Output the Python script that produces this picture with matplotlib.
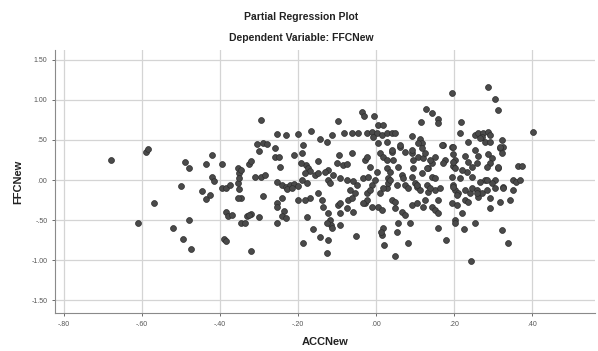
import matplotlib
matplotlib.use("Agg")
import matplotlib.pyplot as plt
from matplotlib.ticker import FuncFormatter

plt.rcParams['font.family'] = ['Liberation Sans', 'DejaVu Sans']

# ACCNew (x) / FFCNew (y) residuals
acc_new = [
    -0.68, -0.59, -0.585, -0.57, -0.61, -0.52, -0.495, -0.475, -0.48, -0.50,
    -0.49, -0.48, -0.435, -0.42, -0.395, -0.445, -0.435, -0.425, -0.42, -0.415,
    -0.395, -0.385, -0.375, -0.355, -0.35, -0.355, -0.35, -0.345, -0.355, -0.385,
    -0.38, -0.37, -0.39, -0.385, -0.345, -0.335, -0.33, -0.32, -0.32, -0.325,
    -0.32, -0.295, -0.30, -0.305, -0.29, -0.28, -0.26, -0.26, -0.25, -0.245,
    -0.255, -0.23, -0.21, -0.20, -0.31, -0.295, -0.285, -0.29, -0.30, -0.255,
    -0.255, -0.255, -0.255, -0.24, -0.23, -0.22, -0.21, -0.20, -0.24, -0.235,
    -0.24, -0.23, -0.20, -0.325, -0.345, -0.35,
    # centre
    -0.167, -0.144, -0.126, -0.113, -0.082, -0.062, -0.046, -0.023, -0.010, 0.003,
    0.015, 0.028, -0.097, -0.036, -0.031, -0.005, 0.005, -0.187, -0.19, -0.15,
    -0.18, -0.192, -0.174, -0.17, -0.156, -0.149, -0.182, -0.19, -0.17, -0.149,
    -0.138, -0.136, -0.123, -0.118, -0.123, -0.131, -0.123, -0.118, -0.115, -0.113,
    -0.126, -0.097, -0.092, -0.074, -0.059, -0.092, -0.177, -0.162, -0.144, -0.123,
    -0.187, -0.126, -0.051, -0.095, -0.10, -0.085, -0.074, -0.062, -0.11, -0.092,
    -0.074, -0.059, -0.067, -0.054, -0.072, -0.062, -0.049, -0.033, -0.028, -0.023,
    -0.015, -0.02, -0.01, -0.023, -0.028, -0.023, -0.015, -0.003, 0.003, 0.01,
    0.018, 0.028, 0.03, 0.028, 0.01, 0.005, 0.015, 0.018, 0.015, 0.02,
    0.005, -0.008, 0.028, 0.018, -0.227, -0.215, -0.177, -0.182, -0.092, -0.033,
    -0.01, 0.013,
    # right
    0.195, 0.287, 0.305, 0.313, 0.128, 0.144, 0.159, 0.159, 0.115, 0.218,
    0.215, 0.403, 0.041, 0.049, 0.092, 0.113, 0.118, 0.108, 0.172, 0.195,
    0.197, 0.203, 0.197, 0.203, 0.254, 0.262, 0.274, 0.287, 0.292, 0.279,
    0.272, 0.323, 0.326, 0.318, 0.254, 0.262, 0.287, 0.297, 0.292, 0.323,
    0.313, 0.364, 0.374, 0.351, 0.228, 0.236, 0.246, 0.233, 0.177, 0.172,
    0.151, 0.144, 0.133, 0.074, 0.092, 0.108, 0.121, 0.126, 0.095, 0.041,
    0.062, 0.028, 0.044, 0.056, 0.036, 0.067, 0.092, 0.118, 0.144, 0.151,
    0.195, 0.215, 0.246, 0.279, 0.305, 0.074, 0.10, 0.031, 0.054, 0.082,
    0.105, 0.113, 0.131, 0.133, 0.151, 0.164, 0.197, 0.203, 0.21, 0.228,
    0.241, 0.246, 0.259, 0.262, 0.272, 0.285, 0.292, 0.297, 0.318, 0.326,
    0.344, 0.351, 0.358, 0.041, 0.049, 0.067, 0.074, 0.056, 0.054, 0.092,
    0.105, 0.126, 0.121, 0.144, 0.151, 0.159, 0.195, 0.208, 0.221, 0.203,
    0.203, 0.254, 0.226, 0.159, 0.18, 0.082, 0.049, 0.244, 0.323, 0.338,
    0.292, 0.228, 0.087,
    # extra points in the dense cluster
    0.041, 0.062, 0.092, 0.118, 0.138, 0.131, 0.095, 0.069, 0.036, 0.018,
    0.049, 0.105, 0.138, 0.159, 0.197, 0.208, 0.236, 0.259, 0.285, 0.267,
    0.305, 0.326, 0.369, 0.313, 0.285, 0.259, 0.221, 0.197, 0.169, 0.197,
    0.236, 0.292, 0.318, 0.267,
]

ffc_new = [
    0.25, 0.35, 0.39, -0.29, -0.53, -0.60, -0.73, -0.86, -0.50, -0.08,
    0.23, 0.15, 0.20, 0.31, 0.20, -0.14, -0.24, -0.19, 0.04, -0.01,
    -0.10, -0.10, -0.06, 0.15, 0.09, -0.04, -0.11, -0.22, -0.22, -0.40,
    -0.45, -0.43, -0.74, -0.76, -0.53, -0.54, -0.45, -0.42, -0.89, 0.20,
    0.24, 0.75, 0.36, 0.45, 0.46, 0.45, 0.40, 0.29, 0.29, 0.16,
    0.575, 0.56, 0.31, 0.575, 0.04, 0.04, 0.06, -0.20, -0.46, -0.28,
    -0.33, -0.54, -0.03, -0.06, -0.09, -0.06, -0.05, -0.08, -0.23, -0.39,
    -0.45, -0.47, -0.25, -0.44, 0.125, 0.025,
    # centre
    0.61, 0.51, 0.475, 0.56, 0.59, 0.59, 0.59, 0.59, 0.60, 0.59,
    0.56, 0.59, 0.74, 0.85, 0.80, 0.80, 0.69, 0.44, 0.34, 0.24,
    0.19, 0.21, 0.15, 0.11, 0.06, 0.09, 0.09, 0.0, -0.22, -0.16,
    -0.25, -0.34, 0.0, -0.04, 0.125, 0.10, -0.41, -0.50, -0.56, -0.60,
    -0.54, -0.31, -0.41, -0.35, -0.40, -0.56, -0.46, -0.61, -0.71, -0.75,
    -0.79, -0.91, -0.70, 0.31, 0.21, 0.19, 0.20, 0.34, 0.06, 0.025,
    0.0, -0.01, -0.125, -0.16, -0.25, -0.22, -0.06, 0.025, 0.25, 0.29,
    0.16, 0.04, -0.06, -0.16, -0.29, -0.25, -0.125, 0.0, 0.10, 0.34,
    0.29, 0.15, 0.025, -0.10, -0.16, -0.34, -0.375, -0.60, -0.69, -0.81,
    0.46, 0.54, 0.475, 0.69, -0.11, -0.10, -0.04, -0.25, -0.29, -0.29,
    -0.34, -0.65,
    # right
    1.09, 1.16, 1.01, 0.875, 0.89, 0.84, 0.76, 0.71, 0.72, 0.72,
    0.59, 0.60, 0.59, 0.59, 0.55, 0.51, 0.46, 0.46, 0.44, 0.41,
    0.325, 0.25, 0.175, 0.15, 0.56, 0.59, 0.59, 0.60, 0.56, 0.475,
    0.54, 0.50, 0.41, 0.40, 0.375, 0.30, 0.325, 0.275, 0.21, 0.34,
    0.15, 0.175, 0.175, 0.0, 0.30, 0.225, 0.16, 0.10, 0.25, 0.21,
    0.29, 0.21, 0.15, 0.35, 0.34, 0.29, 0.275, 0.34, 0.25, 0.35,
    0.41, 0.25, 0.25, 0.16, 0.10, 0.06, 0.04, 0.09, 0.04, 0.025,
    0.04, 0.025, 0.04, 0.0, 0.0, -0.06, -0.04, -0.04, -0.06, -0.10,
    -0.09, -0.125, -0.06, -0.15, -0.125, -0.10, -0.06, -0.125, -0.16, -0.125,
    -0.16, -0.10, -0.125, -0.21, -0.16, -0.125, -0.225, -0.04, -0.275, -0.09,
    -0.25, -0.125, -0.02, -0.25, -0.35, -0.40, -0.44, -0.54, -0.65, -0.31,
    -0.29, -0.25, -0.34, -0.34, -0.375, -0.41, -0.29, -0.31, -0.41, -0.50,
    -0.54, -0.54, -0.61, -0.60, -0.75, -0.79, -0.95, -1.01, -0.625, -0.79,
    -0.35, -0.25, -0.54,
    # extra points in the dense cluster
    0.375, 0.44, 0.375, 0.40, 0.25, 0.15, 0.15, 0.025, 0.0, -0.10,
    -0.275, -0.06, -0.10, -0.25, -0.09, -0.19, -0.275, -0.16, 0.0, -0.025,
    -0.10, -0.10, 0.0, 0.16, 0.16, 0.21, 0.125, 0.225, 0.44, 0.41,
    0.475, 0.475, 0.41, 0.525,
]

x_ticks = [-0.80, -0.60, -0.40, -0.20, 0.00, 0.20, 0.40]
y_ticks = [-1.50, -1.00, -0.50, 0.00, 0.50, 1.00, 1.50]


def spss_fmt(v, pos=None):
    s = '%.2f' % v
    if s.startswith('0.'):
        s = s[1:]
    elif s.startswith('-0.'):
        s = '-' + s[2:]
    return s


fig = plt.figure(figsize=(5.98, 3.51), dpi=100)
ax = fig.add_axes([0.092, 0.108, 0.903, 0.750])

ax.scatter(acc_new, ffc_new, s=18, color='#4a4a4a', edgecolors='#2e2e2e',
           linewidths=0.5, zorder=3)

ax.set_xlim(-0.823, 0.5615)
ax.set_ylim(-1.66, 1.625)
ax.set_xticks(x_ticks)
ax.set_yticks(y_ticks)
ax.xaxis.set_major_formatter(FuncFormatter(spss_fmt))
ax.yaxis.set_major_formatter(FuncFormatter(spss_fmt))
ax.tick_params(labelsize=5, colors='#555555', length=2, width=0.6)

ax.grid(True, color='#d4d4d4', linewidth=0.9, zorder=0)
for side in ['top', 'right']:
    ax.spines[side].set_visible(False)
for side in ['left', 'bottom']:
    ax.spines[side].set_color('#8a8a8a')
    ax.spines[side].set_linewidth(0.8)

ax.set_xlabel('ACCNew', fontsize=8, fontweight='bold', color='#222222', labelpad=7)
ax.set_ylabel('FFCNew', fontsize=8, fontweight='bold', color='#222222', labelpad=6)

fig.text(0.504, 0.951, 'Partial Regression Plot', ha='center', va='center',
         fontsize=7.5, fontweight='bold', color='#222222')
fig.text(0.504, 0.892, 'Dependent Variable: FFCNew', ha='center', va='center',
         fontsize=7.5, fontweight='bold', color='#222222')

fig.savefig('out.png', dpi=100)
